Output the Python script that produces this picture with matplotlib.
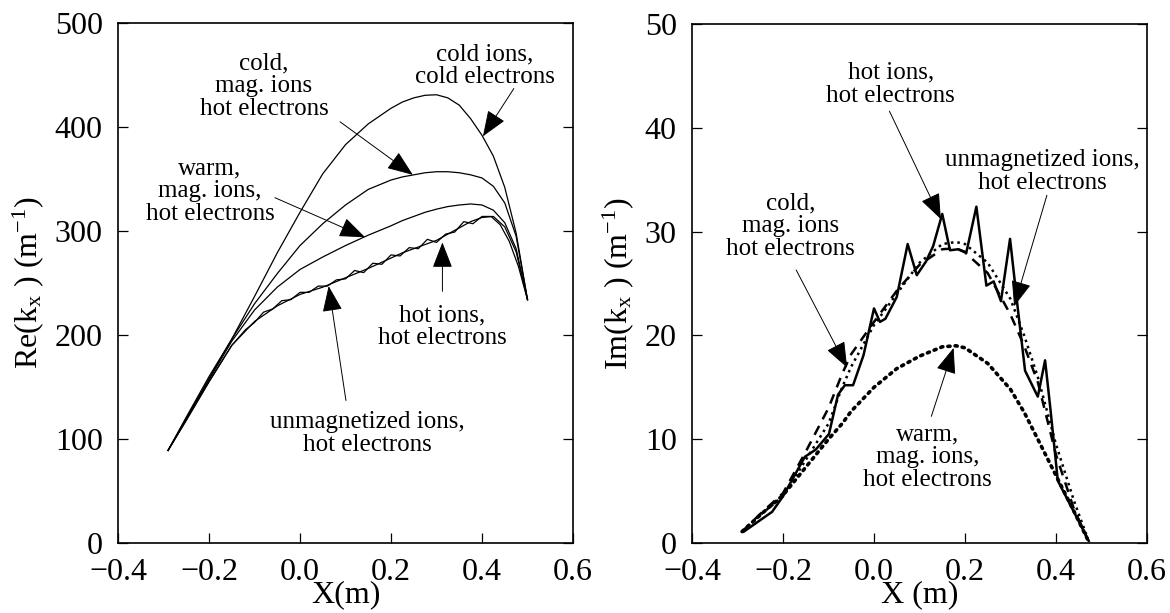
import matplotlib
matplotlib.use('Agg')
import matplotlib.pyplot as plt

plt.rcParams['font.family'] = 'Liberation Serif'
plt.rcParams['mathtext.fontset'] = 'custom'
plt.rcParams['mathtext.rm'] = 'Liberation Serif'
plt.rcParams['mathtext.it'] = 'Liberation Serif:italic'

# ---- left panel: Re(kx) ----
x_re = [-0.29, -0.25, -0.2, -0.15, -0.1, -0.05, 0.0, 0.05, 0.1, 0.15, 0.2, 0.225,
        0.25, 0.275, 0.3, 0.325, 0.35, 0.375, 0.4, 0.425, 0.45, 0.475, 0.5]
re_cold_cold = [89, 121, 160, 196, 237, 279, 318, 355, 383, 403, 418, 424,
                428, 430.5, 431, 428, 421, 408, 392, 372, 342, 298, 234]
re_cold_mag = [89, 120, 158, 196, 230, 259, 286, 307, 325, 340, 349, 352,
               354, 356, 357, 357, 356, 354, 351, 343, 327, 295, 234]
re_warm = [89, 119, 157, 194, 224, 246, 263, 275, 286, 296, 305, 310,
           314, 318, 321, 323.5, 325, 326, 325, 320, 308, 283, 234]
re_unmag = [89, 118, 155, 190, 213, 228, 239, 246, 255, 264, 274, 279,
            283, 287, 291, 297, 303, 309, 313, 314, 304, 280, 234]

x_hot = [-0.29, -0.25, -0.2, -0.15, -0.12, -0.1, -0.08, -0.06, -0.04, -0.02, 0.0,
         0.02, 0.04, 0.06, 0.08, 0.1, 0.12, 0.14, 0.16, 0.18, 0.2, 0.22, 0.24,
         0.26, 0.28, 0.3, 0.32, 0.34, 0.36, 0.38, 0.4, 0.42, 0.44, 0.46, 0.48, 0.5]
re_hot = [89, 118, 155, 190, 205, 212, 222, 225, 233, 234, 241,
          241, 247, 247, 253, 254, 262, 260, 269, 268, 277, 276, 284,
          283, 292, 289, 297, 299, 309, 307, 314, 314, 306, 290, 266, 234]

# ---- right panel: Im(kx) ----
x_im_hot = [-0.286, -0.224, -0.2, -0.152, -0.128, -0.099, -0.079, -0.064, -0.046,
            -0.023, 0.0, 0.013, 0.025, 0.05, 0.074, 0.094, 0.114, 0.13, 0.15,
            0.167, 0.185, 0.203, 0.225, 0.247, 0.263, 0.279, 0.299, 0.316,
            0.332, 0.36, 0.376, 0.388, 0.404, 0.444, 0.472]
im_hot = [1.1, 3.0, 4.5, 8.3, 9.0, 10.5, 14.3, 15.2, 15.2,
          18.1, 22.6, 21.3, 21.6, 23.7, 28.8, 25.8, 27.1, 28.6, 31.7,
          28.2, 28.3, 28.0, 32.4, 24.8, 25.2, 23.3, 29.3, 22.6,
          16.6, 14.1, 17.6, 12.8, 6.0, 2.6, 0.2]

x_im = [-0.29, -0.25, -0.2, -0.15, -0.1, -0.07, -0.05, 0.0, 0.05, 0.1, 0.15,
        0.18, 0.2, 0.25, 0.3, 0.33, 0.36, 0.4, 0.44, 0.47]
im_cold_mag = [1.1, 2.8, 4.8, 8.8, 13.0, 16.3, 18.2, 21.3, 24.3, 26.8, 28.3,
               28.4, 28.0, 26.0, 22.0, 19.0, 15.5, 8.5, 3.2, 0.3]
im_unmag = [1.1, 2.7, 4.5, 8.0, 11.5, 15.0, 17.0, 21.0, 24.0, 27.0, 28.8,
            29.0, 28.8, 27.0, 23.5, 20.0, 16.0, 9.5, 4.0, 0.4]
im_warm = [1.1, 2.7, 4.6, 7.3, 10.0, 11.5, 12.7, 15.0, 16.8, 18.0, 18.9,
           19.0, 18.8, 17.3, 14.8, 12.6, 10.0, 6.5, 3.0, 0.3]

fig = plt.figure(figsize=(11.7, 6.13), dpi=100)
ax1 = fig.add_axes([118 / 1170, 70 / 613, 455 / 1170, 520 / 613])
ax2 = fig.add_axes([692 / 1170, 70 / 613, 455 / 1170, 519 / 613])

lw = 0.9
ax1.plot(x_re, re_cold_cold, color='black', lw=lw)
ax1.plot(x_re, re_cold_mag, color='black', lw=lw)
ax1.plot(x_re, re_warm, color='black', lw=lw)
ax1.plot(x_re, re_unmag, color='black', lw=lw)
ax1.plot(x_hot, re_hot, color='black', lw=lw)

ax2.plot(x_im_hot, im_hot, color='black', lw=1.8)
ax2.plot(x_im, im_cold_mag, color='black', lw=1.8, linestyle=(0, (4, 3)))
ax2.plot(x_im, im_unmag, color='black', lw=1.8, linestyle=(0, (1, 1.6)))
ax2.plot(x_im, im_warm, color='black', lw=2.6, linestyle=(0, (0.6, 1.4)),
         dash_capstyle='round')

tick_fs = 23
for ax in (ax1, ax2):
    ax.set_xlim(-0.4, 0.6)
    ax.set_xticks([-0.4, -0.2, 0.0, 0.2, 0.4, 0.6])
    ax.set_xticklabels(['\u22120.4', '\u22120.2', '0.0', '0.2', '0.4', '0.6'])
    ax.tick_params(direction='in', length=7, width=0.9, right=True,
                   labelsize=tick_fs)
    ax.tick_params(axis='x', pad=11)
    ax.tick_params(axis='y', pad=11)
    for s in ax.spines.values():
        s.set_linewidth(1.2)

ax1.set_ylim(0, 500)
ax1.set_yticks([0, 100, 200, 300, 400, 500])
ax2.set_ylim(0, 50)
ax2.set_yticks([0, 10, 20, 30, 40, 50])

ax1.set_xlabel('X(m)', fontsize=tick_fs, labelpad=-5)
ax2.set_xlabel('X (m)', fontsize=tick_fs, labelpad=-5)
ax1.set_ylabel(r'Re(k$_{\mathrm{x}}$ ) (m$^{-1}$)', fontsize=tick_fs, labelpad=6)
ax2.set_ylabel(r'Im(k$_{\mathrm{x}}$ ) (m$^{-1}$)', fontsize=tick_fs, labelpad=6)

ann_fs = 18
arrow = dict(arrowstyle='-|>,head_length=0.9,head_width=0.35', color='black',
             lw=0.7, shrinkA=0, shrinkB=0, mutation_scale=18)


def label(ax, text, xy, xytext, tail):
    ax.text(xytext[0], xytext[1], text, fontsize=ann_fs, ha='center',
            va='center', linespacing=1.05)
    ax.annotate('', xy=xy, xytext=tail, arrowprops=arrow)


label(ax1, 'cold,\nmag. ions\nhot electrons', (0.248, 354), (-0.079, 439), (0.088, 405))
label(ax1, 'cold ions,\ncold electrons', (0.402, 391), (0.407, 459), (0.470, 437))
label(ax1, 'warm,\nmag. ions,\nhot electrons', (0.143, 294), (-0.198, 338), (-0.055, 332))
label(ax1, 'hot ions,\nhot electrons', (0.313, 289), (0.313, 208), (0.313, 242))
label(ax1, 'unmagnetized ions,\nhot electrons', (0.063, 247), (0.147, 105), (0.101, 137))

label(ax2, 'hot ions,\nhot electrons', (0.147, 31.2), (0.037, 44.2), (0.034, 41.6))
label(ax2, 'unmagnetized ions,\nhot electrons', (0.308, 22.8), (0.371, 35.8), (0.380, 33.5))
label(ax2, 'cold,\nmag. ions\nhot electrons', (-0.059, 16.9), (-0.184, 30.5), (-0.171, 26.3))
label(ax2, 'warm,\nmag. ions,\nhot electrons', (0.175, 18.8), (0.118, 8.3), (0.126, 12.2))

fig.savefig('out.png', dpi=100)
